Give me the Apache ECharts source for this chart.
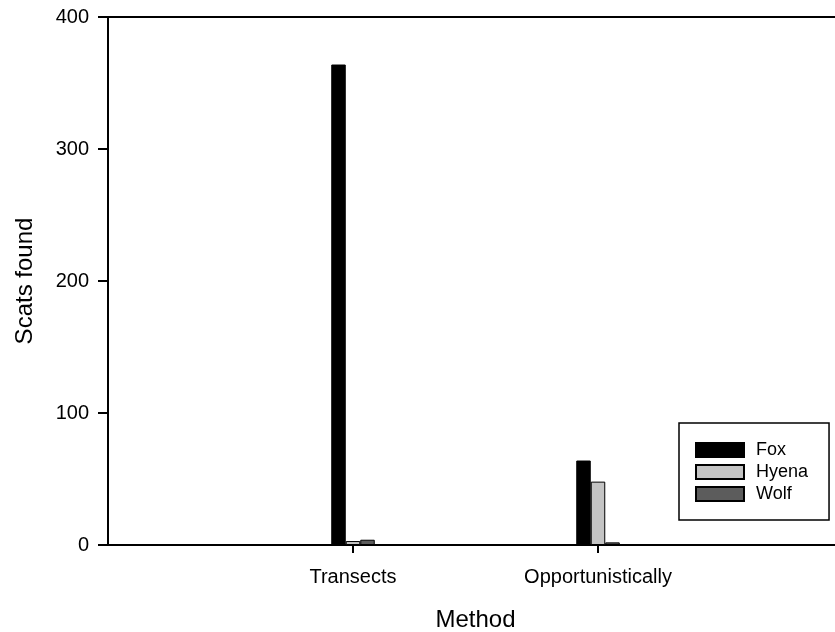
<!DOCTYPE html>
<html>
<head>
<meta charset="utf-8">
<script src="https://cdn.jsdelivr.net/npm/echarts@6/dist/echarts.min.js"></script>
<style>
html,body{margin:0;padding:0;background:#fff;}
#c{width:835px;height:632px;}
</style>
</head>
<body>
<div id="c"></div>
<script>
var categories = ['', 'Transects', 'Opportunistically', ''];
var fox = [null, 364, 64, null];
var hyena = [null, 3, 48, null];
var wolf = [null, 4, 2, null];
var yTicks = [0, 100, 200, 300, 400];

var chart = echarts.init(document.getElementById('c'), null, {renderer: 'canvas'});
var font = 'Liberation Sans, Arial, sans-serif';
function barSeries(name, data, color) {
  return {
    name: name, type: 'bar', data: data, barWidth: 14.5, barGap: '0%',
    itemStyle: {color: color, borderColor: '#000', borderWidth: 1},
    emphasis: {disabled: true}
  };
}
chart.setOption({
  animation: false,
  backgroundColor: '#fff',
  grid: {left: 108, top: 17, width: 735, height: 528, outerBoundsMode: 'none', containLabel: false,
    show: true, borderColor: '#000', borderWidth: 2},
  legend: {
    orient: 'vertical', left: 679, top: 423,
    itemWidth: 48, itemHeight: 14, itemGap: 4,
    padding: [18, 21, 17, 16],
    borderColor: '#000', borderWidth: 1.5,
    textStyle: {fontFamily: font, fontSize: 18, color: '#000', padding: [0, 0, 0, 7]},
    data: [{name: 'Fox', icon: 'rect'}, {name: 'Hyena', icon: 'rect'}, {name: 'Wolf', icon: 'rect'}]
  },
  xAxis: {
    type: 'category', data: categories, boundaryGap: false,
    name: 'Method', nameLocation: 'middle', nameGap: 63,
    nameTextStyle: {fontFamily: font, fontSize: 24, color: '#000'},
    axisLine: {lineStyle: {color: '#000', width: 2}},
    axisTick: {length: 8, lineStyle: {color: '#000', width: 2},
      interval: function (i, v) { return v !== ''; }},
    axisLabel: {fontFamily: font, fontSize: 20, color: '#000', margin: 22, interval: 0},
    splitLine: {show: false}
  },
  yAxis: {
    type: 'value', min: yTicks[0], max: yTicks[yTicks.length - 1], interval: 100,
    name: 'Scats found', nameLocation: 'middle', nameGap: 71,
    nameTextStyle: {fontFamily: font, fontSize: 24, color: '#000'},
    axisLine: {show: true, lineStyle: {color: '#000', width: 2}},
    axisTick: {show: true, length: 10, lineStyle: {color: '#000', width: 2}},
    axisLabel: {fontFamily: font, fontSize: 20, color: '#000', margin: 19},
    splitLine: {show: false}
  },
  series: [
    barSeries('Fox', fox, '#000000'),
    barSeries('Hyena', hyena, '#c4c4c4'),
    barSeries('Wolf', wolf, '#5c5c5c')
  ]
});
</script>
</body>
</html>
